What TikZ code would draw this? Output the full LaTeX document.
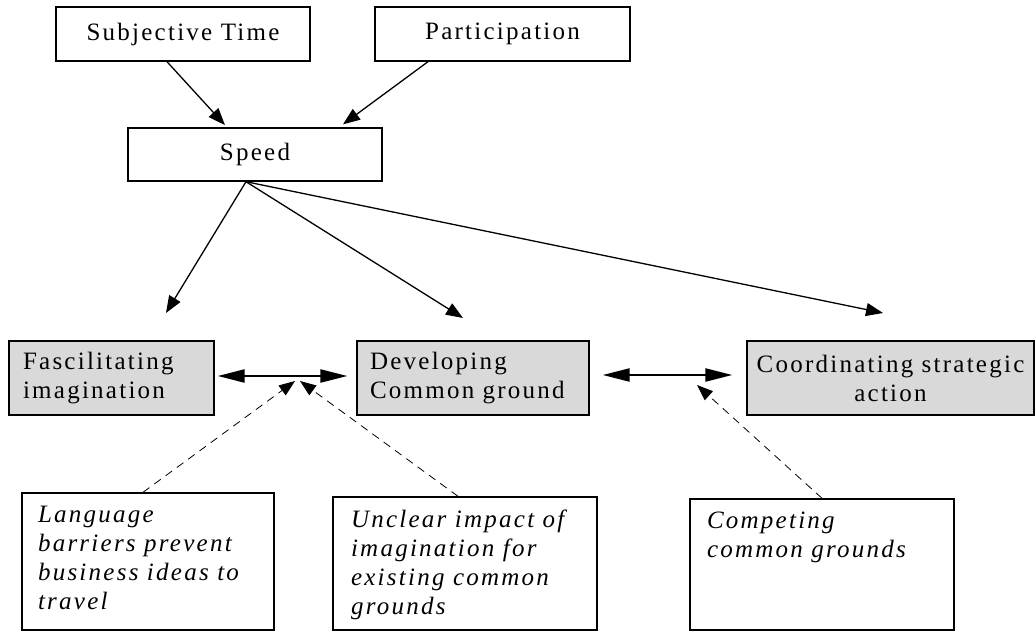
\documentclass[tikz,border=0pt]{standalone}
\usepackage{fontspec}
\setmainfont[LetterSpace=9]{Liberation Serif}
\usetikzlibrary{arrows.meta}
\definecolor{boxgray}{gray}{0.85}

\begin{document}
\begin{tikzpicture}[x=1pt,y=-1pt,
    every node/.style={font=\fontsize{25}{29}\selectfont},
    topbox/.style={draw,line width=1.4pt,minimum height=54pt,inner sep=0pt},
    mainbox/.style={draw,line width=1.4pt,fill=boxgray,minimum height=74pt,inner xsep=14pt,align=left},
    notebox/.style={draw,line width=1.4pt,inner xsep=16pt,inner ysep=13pt,font=\fontsize{25}{29}\selectfont\itshape},
    link/.style={line width=1.3pt,-{Triangle[length=17pt,width=13pt]}},
    both/.style={line width=2.4pt,{Triangle[length=27pt,width=13pt]}-{Triangle[length=27pt,width=13pt]}},
    hint/.style={line width=0.8pt,dash pattern=on 8pt off 6pt,-{Triangle[length=16pt,width=12pt]}}]
    \useasboundingbox (0,0) rectangle (1035,631);

    % top row
    \node[topbox,minimum width=254pt] (subj) at (183,34) {Subjective Time};
    \node[topbox,minimum width=255pt] (part) at (502.5,34) {Participation};
    \node[topbox,minimum width=254pt,minimum height=53pt] (speed) at (255,154.5) {Speed};

    % middle row
    \node[mainbox,text width=177pt] (fasc) at (111.5,378) {Fascilitating\\imagination};
    \node[mainbox,text width=206pt,inner xsep=13pt] (dev) at (473,378) {Developing\\Common ground};
    \node[mainbox,text width=275pt,inner xsep=6pt,align=center] (coord) at (890.5,378) {Coordinating strategic\\action};

    % bottom row
    \node[notebox] (lang) at (148,561.5) {\parbox[c][111pt][t]{220pt}{\raggedright Language\\barriers prevent\\business ideas to\\travel}};
    \node[notebox,inner xsep=18pt] (unclear) at (465,563.5) {\parbox[c][107pt][t]{228pt}{\raggedright Unclear impact of\\imagination for\\existing common\\grounds}};
    \node[notebox,inner xsep=17pt] (compet) at (822,564.5) {\parbox[c][105pt][t]{230pt}{\raggedright Competing\\common grounds}};

    \coordinate (tipF) at (166,313);
    \coordinate (tipD) at (463,318);
    \coordinate (tipC) at (883,313);
    \coordinate (tipL) at (295,381);
    \coordinate (tipU) at (300,381);
    \coordinate (tipK) at (697,385);

    \draw[link] ([xshift=-16pt]subj.south) -- ([xshift=-28pt]speed.north) [shorten >=3pt];
    \draw[link,shorten >=5pt] ([xshift=-74.5pt]part.south) -- ([xshift=84pt]speed.north);
    \foreach \t in {tipF,tipD,tipC} {
        \draw[link] ([xshift=-9pt]speed.south) -- (\t);
    }

    \draw[both,shorten <=3pt,shorten >=9pt] ([yshift=2pt]fasc.east) -- ([yshift=2pt]dev.west);
    \draw[both,shorten <=13pt,shorten >=14pt] ([yshift=3pt]dev.east) -- ([yshift=3pt]coord.west);

    \draw[hint] ([xshift=-5pt]lang.north) -- (tipL);
    \draw[hint] ([xshift=-7pt]unclear.north) -- (tipU);
    \draw[hint] (compet.north) -- (tipK);
\end{tikzpicture}
\end{document}
